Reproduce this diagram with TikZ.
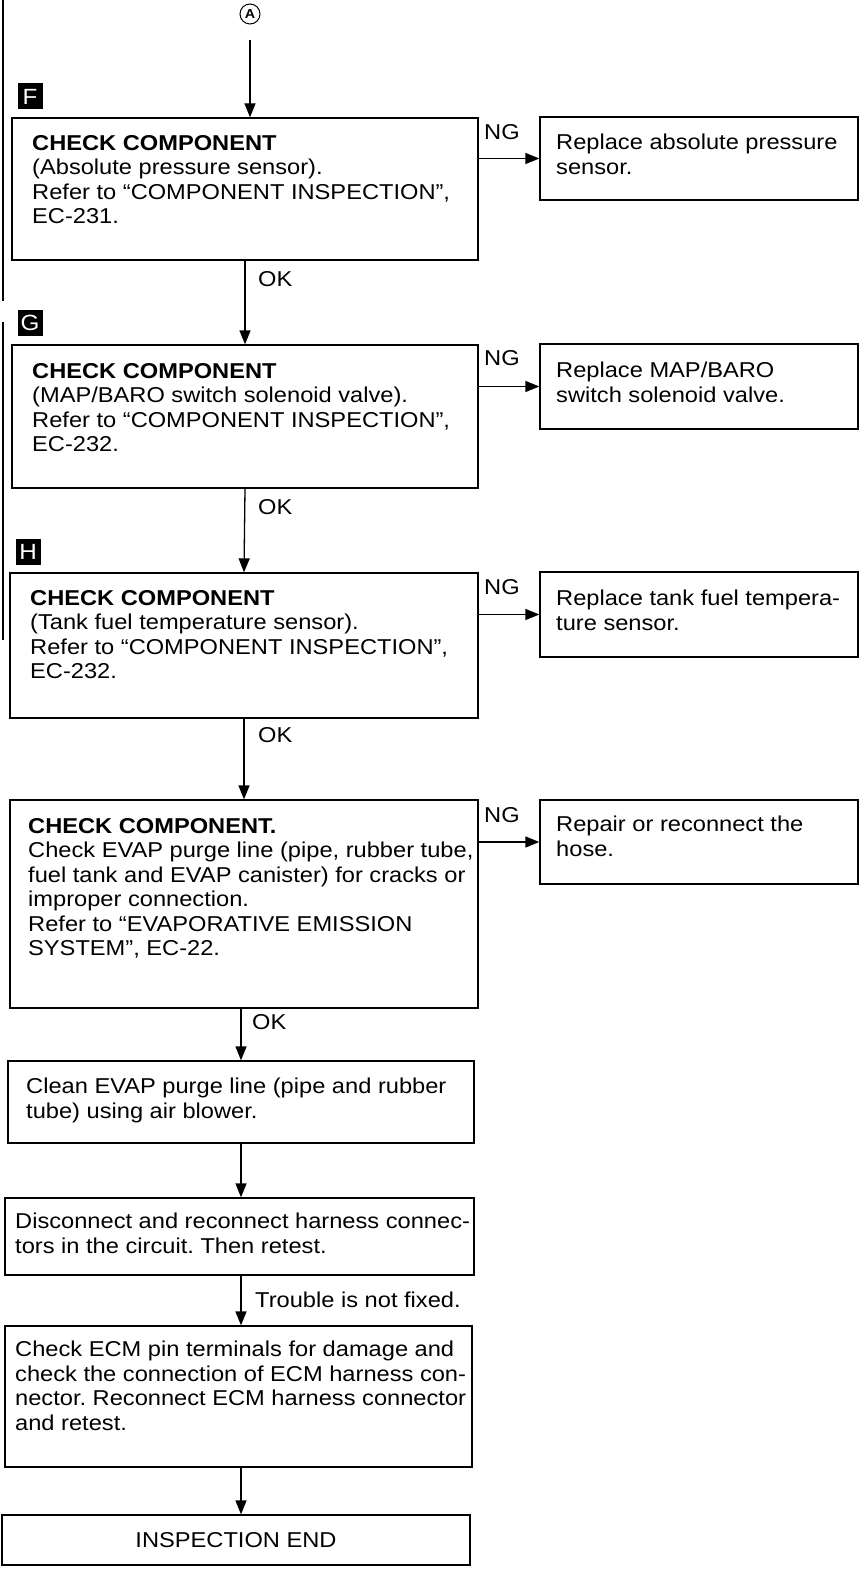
\documentclass[tikz,border=0pt]{standalone}
\usepackage{fontspec}
\setmainfont{Liberation Sans}[FakeStretch=1.1]
\usetikzlibrary{positioning, arrows.meta}

\newcommand{\fs}{\fontsize{21.5}{24.5}\selectfont}
\frenchspacing

\tikzset{
  box/.style={draw, line width=1.3pt, inner sep=0pt},
  txt/.style={anchor=north west, align=left, inner sep=0pt, font=\fs},
  lbl/.style={anchor=west, inner sep=0pt, font=\fs},
  badge/.style={fill=black, text=white, minimum width=25pt, minimum height=26pt, inner sep=0pt, font=\fontsize{22}{22}\selectfont},
  arr/.style={-{Triangle[length=14pt,width=11pt]}, line width=1.3pt}
}

\begin{document}
\begin{tikzpicture}[x=1pt, y=-1pt]
  \useasboundingbox (0,0) rectangle (861,1570);
  % Left page brackets
  \draw[line width=1.2pt] (3,0) -- (3,301);
  \draw[line width=1.2pt] (3,322) -- (3,640);

  % Connector from A
  \node[draw, circle, line width=1pt, minimum size=20pt, inner sep=0pt, font=\fontsize{13}{13}\selectfont\bfseries] (A) at (250,14) {A};

  % Main column boxes
  \node[box, minimum width=466pt, minimum height=142pt] (F) at (245,189) {};
  \node[box, minimum width=466pt, minimum height=143pt] (G) at (245,416.5) {};
  \node[box, minimum width=468pt, minimum height=145pt] (H) at (244,645.5) {};
  \node[box, minimum width=468pt, minimum height=208pt] (E) at (244,904) {};
  \node[box, minimum width=466pt, minimum height=82pt] (Clean) at (241,1102) {};
  \node[box, minimum width=469pt, minimum height=77pt] (Disc) at (239.5,1236.5) {};
  \node[box, minimum width=467pt, minimum height=141pt] (ECM) at (238.5,1396.5) {};
  \node[box, minimum width=468pt, minimum height=50pt, font=\fs] (End) at (236,1540) {INSPECTION END};

  % NG boxes
  \node[box, minimum width=318pt, minimum height=83pt] (RF) at (699,158.5) {};
  \node[box, minimum width=318pt, minimum height=85pt] (RG) at (699,386.5) {};
  \node[box, minimum width=318pt, minimum height=85pt] (RH) at (699,614.5) {};
  \node[box, minimum width=318pt, minimum height=84pt] (RE) at (699,842) {};

  % Badges
  \node[badge] (bF) at (30,96.5) {F};
  \node[badge] (bG) at (30,323) {G};
  \node[badge] (bH) at (28,552) {H};

  % Box texts
  \node[txt] (Ft) at (32,135) {\textbf{CHECK COMPONENT}\\(Absolute pressure sensor).\\Refer to “COMPONENT INSPECTION”,\\EC-231.};
  \node[txt] (Gt) at (32,363) {\textbf{CHECK COMPONENT}\\(MAP/BARO switch solenoid valve).\\Refer to “COMPONENT INSPECTION”,\\EC-232.};
  \node[txt] (Ht) at (30,590) {\textbf{CHECK COMPONENT}\\(Tank fuel temperature sensor).\\Refer to “COMPONENT INSPECTION”,\\EC-232.};
  \node[txt] (Et) at (28,818) {\textbf{CHECK COMPONENT.}\\Check EVAP purge line (pipe, rubber tube,\\fuel tank and EVAP canister) for cracks or\\improper connection.\\Refer to “EVAPORATIVE EMISSION\\SYSTEM”, EC-22.};
  \node[txt] (Cleant) at (26,1078) {Clean EVAP purge line (pipe and rubber\\tube) using air blower.};
  \node[txt] (Disct) at (15,1213) {Disconnect and reconnect harness connec-\\tors in the circuit. Then retest.};
  \node[txt] (ECMt) at (15,1341) {Check ECM pin terminals for damage and\\check the connection of ECM harness con-\\nector. Reconnect ECM harness connector\\and retest.};
  \node[txt] (RFt) at (556,134) {Replace absolute pressure\\sensor.};
  \node[txt] (RGt) at (556,362) {Replace MAP/BARO\\switch solenoid valve.};
  \node[txt] (RHt) at (556,590) {Replace tank fuel tempera-\\ture sensor.};
  \node[txt] (REt) at (556,816) {Repair or reconnect the\\hose.};

  % Vertical connectors
  \draw[arr, shorten <=16pt] (A) -- (A |- F.north);
  \draw[arr] (F.south) -- (G.north);
  \draw[arr] (G.south) -- (H.north);
  \draw[arr] (H.south) -- (E.north);
  \draw[arr] (Clean.north |- E.south) -- (Clean.north);
  \draw[arr] (Clean.south) -- (Clean.south |- Disc.north);
  \draw[arr] (Clean.south |- Disc.south) -- (Clean.south |- ECM.north);
  \draw[arr] (Clean.south |- ECM.south) -- (Clean.south |- End.north);

  % NG connectors
  \draw[arr] (F.east |- RF.west) -- (RF.west);
  \draw[arr] (G.east |- RG.west) -- (RG.west);
  \draw[arr] (H.east |- RH.west) -- (RH.west);
  \draw[arr] (E.east |- RE.west) -- (RE.west);

  % Labels
  \node[lbl] (ok1) at (258,279) {OK};
  \node[lbl] (ok2) at (258,507) {OK};
  \node[lbl] (ok3) at (258,735) {OK};
  \node[lbl] (ok4) at (252,1022) {OK};
  \node[lbl] (notfixed) at (255,1300) {Trouble is not fixed.};
  \node[lbl] (ng1) at (484,132) {NG};
  \node[lbl] (ng2) at (484,358) {NG};
  \node[lbl] (ng3) at (484,587) {NG};
  \node[lbl] (ng4) at (484,815) {NG};
\end{tikzpicture}
\end{document}
